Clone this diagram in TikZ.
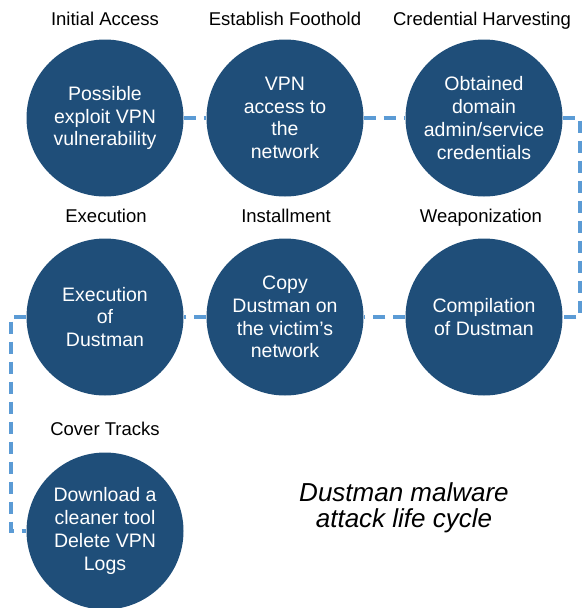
\documentclass[tikz,border=0pt]{standalone}
\usepackage{fontspec}
\setmainfont{Liberation Sans}
\usepackage{tikz}
\definecolor{stageblue}{RGB}{31,78,121}
\definecolor{linkblue}{RGB}{91,155,213}

\begin{document}
\begin{tikzpicture}[x=1pt,y=-1pt,
		stage/.style={circle,fill=stageblue,text=white,minimum size=157pt,inner sep=0pt,align=center,font=\fontsize{19.5}{22.7}\selectfont},
		phase/.style={anchor=base,font=\fontsize{18.5}{22}\selectfont},
		link/.style={linkblue,line width=3.4pt,dash pattern=on 12pt off 8pt}]
				\useasboundingbox (0,0) rectangle (583,608);
				\node[stage] (access) at (105,118) {Possible\\exploit VPN\\vulnerability};
				\node[stage] (foothold) at (285,118) {VPN\\access to\\the\\network};
				\node[stage] (harvest) at (484,118) {Obtained\\domain\\admin/service\\credentials};
				\node[stage] (exec) at (105,317) {Execution\\of\\Dustman};
				\node[stage] (install) at (285,317) {Copy\\Dustman on\\the victim's\\network};
				\node[stage] (weapon) at (484,317) {Compilation\\of Dustman};
				\node[stage] (cover) at (105,531) {Download a\\cleaner tool\\Delete VPN\\Logs};
				\node[phase] (access-t) at (105,25) {Initial Access};
				\node[phase] (foothold-t) at (285,25) {Establish Foothold};
				\node[phase] (harvest-t) at (482,25) {Credential Harvesting};
				\node[phase] (exec-t) at (106,222) {Execution};
				\node[phase] (install-t) at (286,222) {Installment};
				\node[phase] (weapon-t) at (481,222) {Weaponization};
				\node[phase] (cover-t) at (105,435) {Cover Tracks};
				\node[align=center,font=\itshape\fontsize{26}{26}\selectfont] (caption) at (404,508) {Dustman malware\\attack life cycle};
				\coordinate (rturn) at (580,118);
				\coordinate (lturn) at (11,317);
				\draw[link] (access) -- (foothold);
				\draw[link] (foothold) -- (harvest);
				\draw[link] (harvest.east) -- (rturn) |- (weapon.east);
				\draw[link] (weapon) -- (install);
				\draw[link] (install) -- (exec);
				\draw[link] (exec.west) -- (lturn) |- (cover.west);
\end{tikzpicture}
\end{document}
